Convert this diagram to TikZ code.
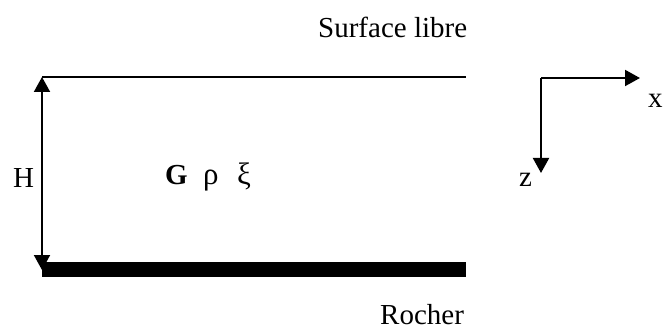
\documentclass[tikz,border=0pt]{standalone}
\usepackage{fontspec}
\setmainfont{Liberation Serif}
\usetikzlibrary{arrows.meta}
\begin{document}
\begin{tikzpicture}[x=1pt,y=-1pt,
  lbl/.style={inner sep=0pt,anchor=base west,font=\fontsize{29}{34}\selectfont},
  tip/.style={-{Triangle[width=16pt,length=15pt]},line width=2pt},
  dtip/.style={{Triangle[width=16pt,length=15pt]}-{Triangle[width=16pt,length=15pt]},line width=2pt}]
\useasboundingbox (0,0) rectangle (664,331);
% surface and rock
\coordinate (sl) at (42,77);
\coordinate (sr) at (466,77);
\draw[line width=2pt] (sl) -- (sr);
\fill (42,262) rectangle (466,277);
\coordinate (hb) at (42,270);
\draw[dtip] (sl) -- (hb);
% axes
\coordinate (o) at (541,78);
\coordinate (xe) at (640,78);
\coordinate (ze) at (541,173);
\draw[tip] (o) -- (xe);
\draw[tip] (o) -- (ze);
% labels
\node[lbl] (surf) at (318,38) {Surface libre};
\node[lbl] (roch) at (380,324) {Rocher};
\node[lbl] (h) at (13,188) {H};
\node[lbl] (g) at (165,185) {\textbf{G}};
\node[lbl,font=\fontsize{31}{34}\selectfont] (rho) at (203,185) {ρ};
\node[lbl,font=\fontsize{31}{34}\selectfont] (xi) at (237,185) {ξ};
\node[lbl] (xl) at (648,108) {x};
\node[lbl] (zl) at (519,187) {z};
\end{tikzpicture}
\end{document}
